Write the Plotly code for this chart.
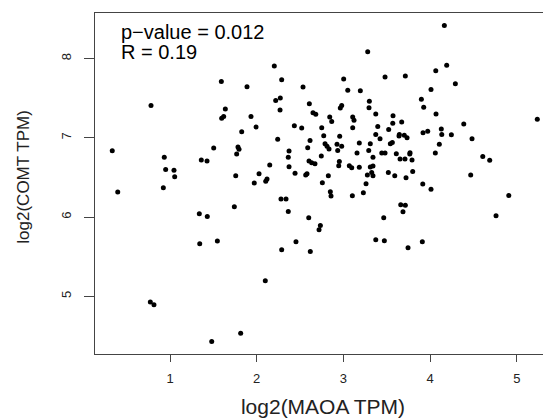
import plotly.graph_objects as go

# log2(MAOA TPM) vs log2(COMT TPM)
maoa = [
    1.592, 1.888, 0.781, 1.638, 1.619, 1.596, 1.827, 0.334, 1.504, 1.784,
    1.796, 1.769, 0.934, 1.361, 1.427, 0.950, 1.046, 1.054, 1.758, 3.280,
    2.203, 2.288, 3.003, 3.480, 2.534, 3.050, 3.195, 2.219, 2.272, 3.299,
    2.607, 2.269, 2.980, 2.964, 3.295, 2.649, 2.681, 3.373, 1.934, 2.842,
    2.865, 3.107, 3.122, 3.107, 3.572, 3.569, 1.992, 2.434, 2.519, 2.750,
    3.396, 3.522, 3.373, 2.773, 2.957, 3.422, 2.242, 2.615, 2.788, 2.811,
    2.834, 2.926, 2.980, 2.588, 3.183, 3.310, 3.541, 3.564, 2.373, 2.934,
    3.292, 3.442, 3.480, 3.157, 2.745, 2.364, 3.341, 2.603, 2.634, 2.672,
    2.953, 2.150, 2.373, 2.946, 3.068, 3.096, 3.183, 3.310, 3.341, 2.027,
    2.442, 2.565, 2.580, 2.826, 3.276, 3.326, 3.341, 3.518, 3.592, 1.972,
    2.104, 2.119, 2.757, 3.261, 4.164, 4.191, 4.065, 3.714, 4.291, 4.010,
    3.899, 3.926, 4.068, 5.236, 3.672, 4.388, 4.129, 3.645, 3.641, 3.702,
    3.734, 3.918, 3.972, 4.134, 4.245, 4.483, 4.106, 4.060, 3.610, 3.768,
    3.765, 3.653, 3.710, 3.791, 4.607, 4.687, 3.799, 3.722, 4.468, 3.915,
    0.397, 0.923, 1.742, 1.338, 1.430, 1.343, 1.546, 0.773, 0.815, 1.815,
    1.481, 2.849, 2.857, 3.103, 3.230, 2.280, 2.338, 2.364, 2.600, 2.734,
    2.719, 2.453, 2.288, 2.618, 3.465, 3.373, 3.472, 2.099, 4.010, 3.661,
    3.714, 3.687, 3.910, 3.745, 4.907, 4.760,
]
comt = [
    7.710, 7.646, 7.410, 7.364, 7.271, 7.246, 7.078, 6.838, 6.871, 6.884,
    6.855, 6.795, 6.754, 6.720, 6.707, 6.602, 6.590, 6.510, 6.523, 8.088,
    7.907, 7.735, 7.742, 7.768, 7.641, 7.600, 7.596, 7.473, 7.503, 7.461,
    7.432, 7.351, 7.407, 7.376, 7.381, 7.318, 7.297, 7.301, 7.271, 7.263,
    7.208, 7.263, 7.221, 7.129, 7.280, 7.183, 7.136, 7.154, 7.124, 7.129,
    7.145, 7.104, 7.044, 7.028, 7.019, 6.990, 6.981, 6.968, 6.927, 6.893,
    6.859, 6.918, 6.893, 6.876, 6.934, 6.927, 6.927, 6.943, 6.833, 6.842,
    6.842, 6.808, 6.808, 6.808, 6.770, 6.754, 6.754, 6.707, 6.687, 6.674,
    6.703, 6.657, 6.636, 6.649, 6.649, 6.624, 6.628, 6.631, 6.644, 6.548,
    6.552, 6.530, 6.548, 6.523, 6.530, 6.564, 6.523, 6.564, 6.523, 6.429,
    6.451, 6.480, 6.434, 6.422, 8.417, 7.915, 7.848, 7.780, 7.684, 7.612,
    7.486, 7.385, 7.301, 7.234, 7.199, 7.174, 7.111, 7.044, 7.023, 7.032,
    7.003, 7.066, 7.082, 7.044, 7.040, 6.990, 6.918, 6.808, 6.801, 6.813,
    6.795, 6.732, 6.732, 6.720, 6.766, 6.716, 6.577, 6.497, 6.530, 6.417,
    6.316, 6.371, 6.131, 6.043, 6.009, 5.664, 5.697, 4.927, 4.894, 4.535,
    4.431, 6.321, 6.265, 6.270, 6.308, 6.227, 6.227, 6.072, 5.992, 5.895,
    5.841, 5.689, 5.588, 5.567, 5.992, 5.715, 5.702, 5.197, 6.350, 6.157,
    6.148, 6.068, 5.689, 5.614, 6.274, 6.018,
]

x_ticks = [1, 2, 3, 4, 5]
y_ticks = [5, 6, 7, 8]
stats_lines = ["p\u2212value = 0.012", "R = 0.19"]

fig = go.Figure(go.Scatter(
    x=maoa, y=comt, mode="markers",
    marker=dict(color="black", size=5),
    hoverinfo="skip",
))

# the two stats lines sit close together, so each gets its own annotation
for i, line in enumerate(stats_lines):
    fig.add_annotation(
        x=0, y=1, xref="paper", yref="paper", xanchor="left", yanchor="middle",
        xshift=24, yshift=-19 - 20 * i, text=line, showarrow=False,
        font=dict(family="Liberation Sans, Arial", size=20, color="black"),
    )

# y label as an annotation so it can sit further left than plotly's title
fig.add_annotation(
    x=0, y=0.52, xref="paper", yref="paper", xanchor="center", yanchor="middle",
    xshift=-71, text="log2(COMT TPM)", textangle=-90, showarrow=False,
    font=dict(family="Liberation Sans, Arial", size=17, color="#222"),
)

# page body adds an 8px margin, so the figure is a bit smaller than the window
fig.update_layout(
    width=543, height=411,
    margin=dict(l=87, r=0, t=5, b=65),
    plot_bgcolor="white", paper_bgcolor="white",
    showlegend=False,
    font=dict(family="Liberation Sans, Arial", color="#222"),
)
fig.update_xaxes(
    range=[0.135, 5.394], tickvals=x_ticks, ticks="outside", ticklen=7,
    tickcolor="#444", showgrid=False, zeroline=False, automargin=False,
    showline=True, linecolor="#444", linewidth=1, mirror=True,
    tickfont=dict(size=13), ticklabelstandoff=5,
    title=dict(text="log2(MAOA TPM)", font=dict(size=21), standoff=14),
)
fig.update_yaxes(
    range=[4.272, 8.576], tickvals=y_ticks, ticks="outside", ticklen=10,
    tickcolor="#444", showgrid=False, zeroline=False, automargin=False,
    showline=True, linecolor="#444", linewidth=1, mirror=False,
    tickangle=-90, tickfont=dict(size=13), ticklabelstandoff=8,
)

fig.write_html("out.html")
